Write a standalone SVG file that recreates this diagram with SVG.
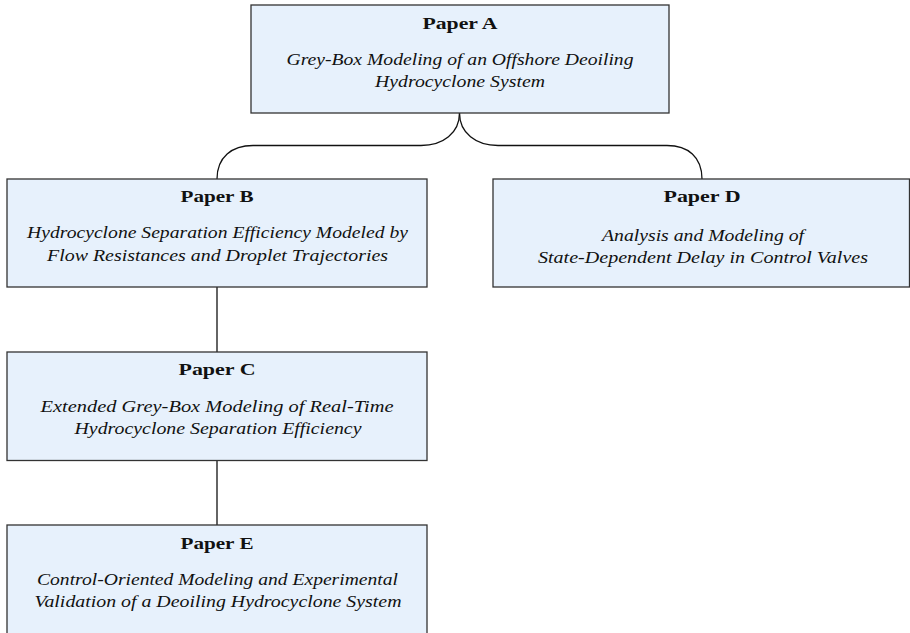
<svg xmlns="http://www.w3.org/2000/svg" width="910" height="633" viewBox="0 0 910 633">
<style>
.box{fill:#e7f1fc;stroke:#333;stroke-width:1.3}
.ttl{font-family:"Liberation Serif","DejaVu Serif",serif;font-weight:bold;font-size:17px;fill:#111;text-anchor:middle}
.it{font-family:"Liberation Serif","DejaVu Serif",serif;font-style:italic;font-size:16.5px;fill:#111;text-anchor:middle}
.con{fill:none;stroke:#111;stroke-width:1.3}
</style>
<rect width="910" height="633" fill="#fff"/>
<g id="connectors">
<path class="con" d="M459.5,113 C459.5,133 443,145.5 421,145.5 H253 C232,145.5 217,157 217,179"/>
<path class="con" d="M459.5,113 C459.5,133 476,145.5 498,145.5 H667 C688,145.5 702,157 702,179"/>
<path class="con" d="M217,287 V352"/>
<path class="con" d="M217,460.5 V525"/>
</g>
<g id="paperA">
<rect class="box" x="251" y="5" width="418" height="108"/>
<text class="ttl" x="460" y="29" textLength="75" lengthAdjust="spacingAndGlyphs">Paper A</text>
<text class="it" x="460" y="65" textLength="347" lengthAdjust="spacingAndGlyphs">Grey-Box Modeling of an Offshore Deoiling</text>
<text class="it" x="460" y="87" textLength="170" lengthAdjust="spacingAndGlyphs">Hydrocyclone System</text>
</g>
<g id="paperB">
<rect class="box" x="7" y="179" width="420" height="108"/>
<text class="ttl" x="217" y="202" textLength="73" lengthAdjust="spacingAndGlyphs">Paper B</text>
<text class="it" x="217.5" y="238" textLength="381" lengthAdjust="spacingAndGlyphs">Hydrocyclone Separation Efficiency Modeled by</text>
<text class="it" x="217.5" y="260.5" textLength="341" lengthAdjust="spacingAndGlyphs">Flow Resistances and Droplet Trajectories</text>
</g>
<g id="paperD">
<rect class="box" x="493" y="179" width="416.5" height="108"/>
<text class="ttl" x="702" y="202" textLength="77" lengthAdjust="spacingAndGlyphs">Paper D</text>
<text class="it" x="703" y="240.5" textLength="202" lengthAdjust="spacingAndGlyphs">Analysis and Modeling of</text>
<text class="it" x="703" y="263" textLength="330" lengthAdjust="spacingAndGlyphs">State-Dependent Delay in Control Valves</text>
</g>
<g id="paperC">
<rect class="box" x="7" y="352" width="420" height="108.5"/>
<text class="ttl" x="217" y="375" textLength="77" lengthAdjust="spacingAndGlyphs">Paper C</text>
<text class="it" x="217" y="411.5" textLength="353" lengthAdjust="spacingAndGlyphs">Extended Grey-Box Modeling of Real-Time</text>
<text class="it" x="218" y="434" textLength="287" lengthAdjust="spacingAndGlyphs">Hydrocyclone Separation Efficiency</text>
</g>
<g id="paperE">
<rect class="box" x="7" y="525" width="420" height="120"/>
<text class="ttl" x="217" y="549" textLength="73" lengthAdjust="spacingAndGlyphs">Paper E</text>
<text class="it" x="217.5" y="584.5" textLength="361" lengthAdjust="spacingAndGlyphs">Control-Oriented Modeling and Experimental</text>
<text class="it" x="218" y="607" textLength="367" lengthAdjust="spacingAndGlyphs">Validation of a Deoiling Hydrocyclone System</text>
</g>
</svg>
